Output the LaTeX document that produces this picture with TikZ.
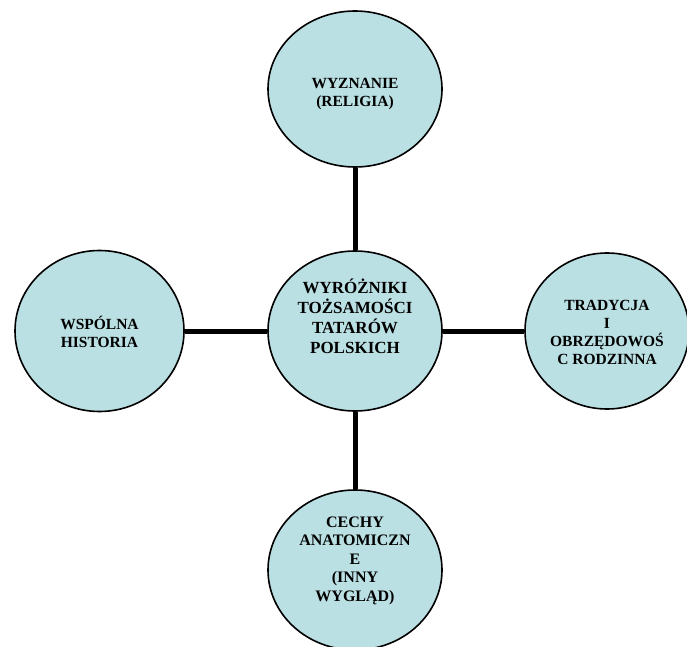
\documentclass[tikz,border=0pt]{standalone}
\usepackage{fontspec}
\setmainfont{Liberation Serif}
\usetikzlibrary{shapes.geometric}
\definecolor{bubble}{RGB}{187,224,227}
\tikzset{
  bubble/.style={ellipse, draw=black, line width=1.6pt, fill=bubble, inner sep=0pt},
  txt/.style={align=center, font=\fontsize{15.5}{18}\selectfont\bfseries, inner sep=0pt},
  conn/.style={line width=5pt}
}
\begin{document}
\begin{tikzpicture}[x=1pt,y=1pt]
\useasboundingbox (0,0) rectangle (687,646);
\node[bubble, minimum width=174pt, minimum height=160pt] (c) at (355,315) {};
\node[bubble, minimum width=174pt, minimum height=156pt] (t) at (355,557) {};
\node[bubble, minimum width=169pt, minimum height=161pt] (l) at (99.5,315) {};
\node[bubble, minimum width=164pt, minimum height=156pt] (r) at (607,315) {};
\node[bubble, minimum width=174pt, minimum height=160pt] (b) at (355,76) {};
\draw[conn] (c) -- (t);
\draw[conn] (c) -- (l);
\draw[conn] (c) -- (r);
\draw[conn] (c) -- (b);
\node[txt, font=\fontsize{17}{20}\selectfont\bfseries] (ct) at (355,330) {WYRÓŻNIKI\\TOŻSAMOŚCI\\TATARÓW\\POLSKICH};
\node[txt] (tt) at (355,552) {WYZNANIE\\(RELIGIA)};
\node[txt] (lt) at (99.5,314.5) {WSPÓLNA\\HISTORIA};
\node[txt] (rt) at (607,314) {TRADYCJA\\I\\OBRZĘDOWOŚ\\C RODZINNA};
\node[txt, font=\fontsize{16}{18.5}\selectfont\bfseries] (bt) at (355,85.5) {CECHY\\ANATOMICZN\\E\\(INNY\\WYGLĄD)};
\end{tikzpicture}
\end{document}
